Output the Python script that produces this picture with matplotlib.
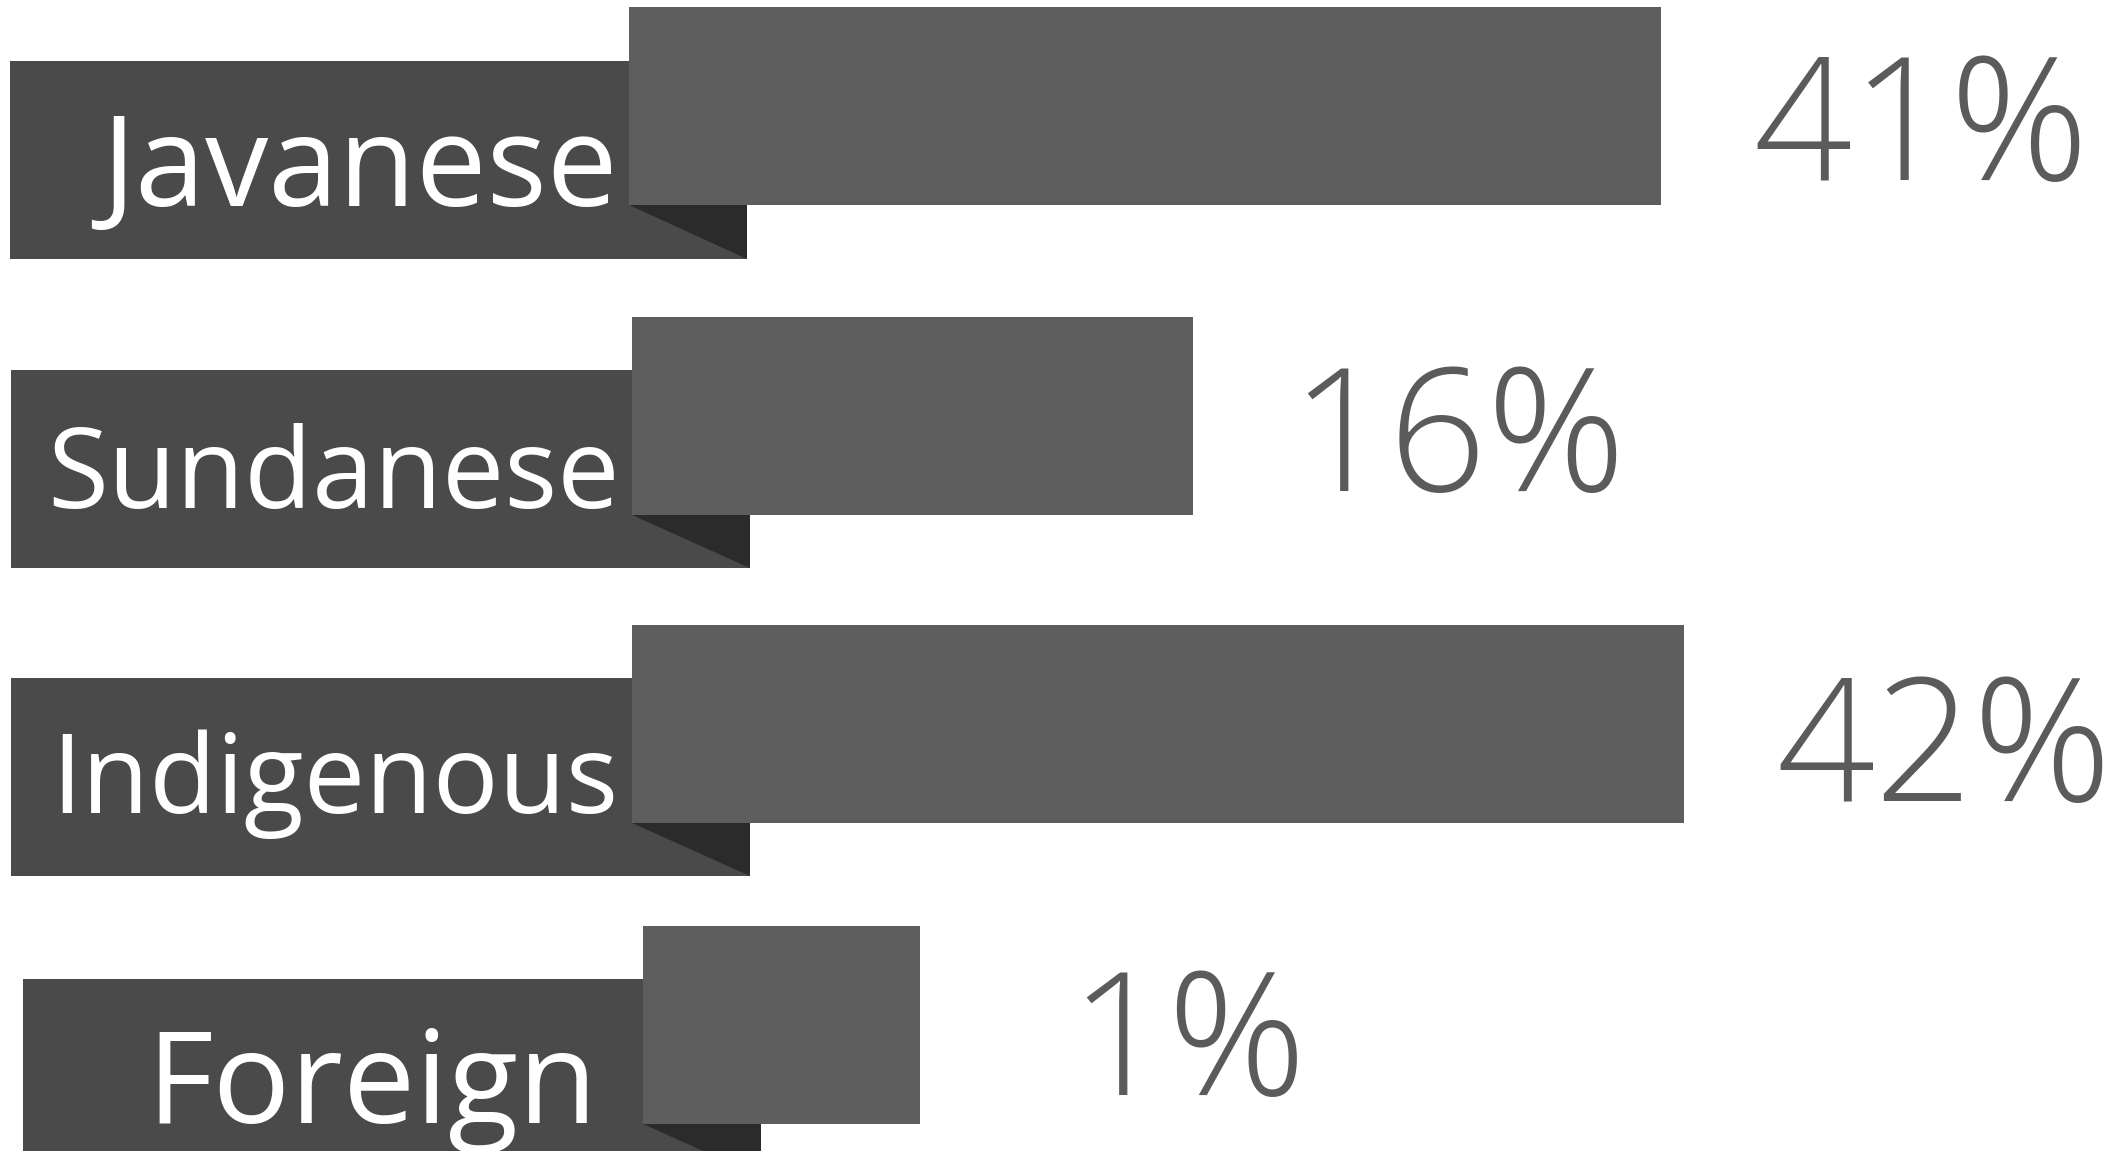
import matplotlib
matplotlib.use("Agg")
import matplotlib.pyplot as plt
from matplotlib.patches import Polygon

# ---- data ----
categories = ["Javanese", "Sundanese", "Indigenous", "Foreign"]
values = [41, 16, 42, 1]                      # percent labels
value_labels = [f"{v}%" for v in values]
bar_extent = [1223, 878, 1240, 677]           # right end of each bar (chart units, non-proportional infographic)

# ---- layout (chart units, reference is 1565 x 849 units) ----
W, H = 1565, 849
label_left = [7, 8, 8, 17]
label_right = [550, 552, 552, 560]
label_top = [45, 273, 500, 722]
bar_left = [463, 465, 465, 473]
bar_top = [5, 234, 461, 683]
box_h = 146
label_x = [455, 456, 455, 440]
label_base = [152, 375, 600, 828]
label_size = [91, 80, 79, 93]
pct_x = [1291, 950, 1308, 787]
pct_base = [133, 362, 591, 808]
pct_size = 124

dark = "#4a4a4a"
mid = "#5e5e5e"
fold = "#2b2b2b"
txt = "#5b5b5b"

fig = plt.figure(figsize=(21.26, 11.51), dpi=100)
ax = fig.add_axes([0, 0, 1, 1])
ax.set_xlim(0, W)
ax.set_ylim(H, 0)
ax.axis("off")

for i, cat in enumerate(categories):
    # dark label box
    ax.barh(label_top[i] + box_h / 2, label_right[i] - label_left[i], left=label_left[i],
            height=box_h, color=dark, zorder=1)
    # lighter value bar
    ax.barh(bar_top[i] + box_h / 2, bar_extent[i] - bar_left[i], left=bar_left[i],
            height=box_h, color=mid, zorder=2)
    # folded corner
    yb = bar_top[i] + box_h
    yl = label_top[i] + box_h
    ax.add_patch(Polygon([(bar_left[i], yb), (label_right[i], yb), (label_right[i], yl)],
                         closed=True, color=fold, zorder=3, lw=0))
    ax.text(label_x[i], label_base[i], cat, ha="right", va="baseline",
            fontsize=label_size[i], color="white", family="Open Sans",
            fontweight="normal", zorder=4)
    ax.text(pct_x[i], pct_base[i], value_labels[i], ha="left", va="baseline",
            fontsize=pct_size, color=txt, family="Open Sans", fontweight="light", zorder=4)

fig.savefig("out.png", dpi=100, facecolor="white")
